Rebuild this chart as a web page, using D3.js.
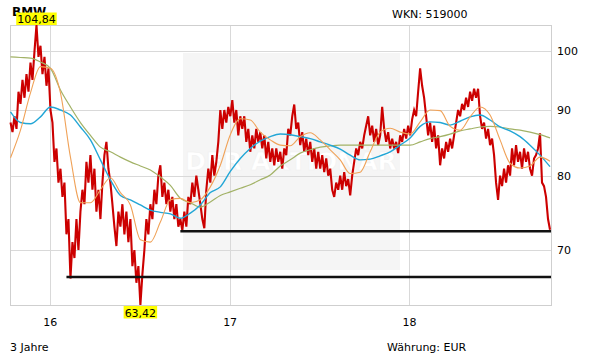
<!DOCTYPE html>
<html>
<head>
<meta charset="utf-8">
<script src="https://cdn.jsdelivr.net/npm/d3@7"></script>
<style>
  body { margin: 0; background: #fff; }
  svg { display: block; font-family: "DejaVu Sans", Verdana, sans-serif; }
</style>
</head>
<body>
<svg id="chart" width="611" height="364"></svg>
<script>
var title = 'BMW';
var wkn = 'WKN: 519000';
var periodLabel = '3 Jahre';
var currencyLabel = 'Währung: EUR';
var watermark = 'DER AKTIONÄR';

var startDate = new Date(2015, 9, 12);
var endDate = new Date(2018, 9, 14);
var axisEnd = new Date(2018, 9, 16);

var yTicks = [70, 80, 90, 100];

// price, one value roughly every 4 days
var prices = [
  88, 86.5, 89, 87, 93, 91, 95, 92, 96, 93,
  98, 95, 100, 104.84, 99, 101, 96, 99, 94, 97,
  90, 88, 82, 84, 79, 81, 77, 79, 72, 74,
  66.5, 71, 69, 74, 70, 75, 78, 76, 82, 79,
  83, 78, 81, 75, 78, 74, 79, 83, 85, 81,
  79, 76, 73, 70.5, 75, 73, 76, 72, 75, 71,
  74, 68, 70, 66, 68, 63.42, 67, 70, 74, 72,
  76, 74, 78, 76, 80, 81.5, 77, 79, 76, 78,
  75, 77, 74, 76, 73, 74, 72.5, 75, 73, 77,
  76, 79, 77, 80, 78, 76, 74, 72.8, 78, 81,
  79, 83, 80, 82, 85, 90, 87, 90, 88, 90.5,
  89, 91.6, 88, 90, 86, 89, 87, 89, 85, 87,
  83.5, 86, 84, 87, 85, 86.5, 84, 86, 82.5, 85,
  82, 84, 81.5, 84, 82, 83.5, 81, 84, 83, 87,
  86, 89, 90.9, 87, 88, 84.5, 86.5, 83.5, 85.5, 83,
  85, 82, 84, 81, 83.5, 81, 83, 80.5, 82.5, 80,
  81, 78, 77, 79, 78, 80, 78, 80.5, 78.5, 79.5,
  77.2, 80, 82, 84, 83, 85, 84, 86, 87.5, 89,
  86, 87.5, 85, 87, 84.5, 86, 90.5, 87, 85, 86.5,
  84, 85.5, 84, 85, 83.3, 86, 85, 87, 85.5, 87.5,
  86, 88.5, 90, 89, 93, 97, 94, 92, 89, 86,
  88, 85, 87.5, 84, 86, 81.5, 84, 82.5, 85, 83.5,
  85.5, 84, 86, 88, 90, 89, 91, 90, 92, 90.5,
  93, 91.5, 93.5, 92, 93.5, 89, 87, 88, 85.5, 87,
  84.5, 85.5, 83, 79, 76.6, 80, 78.5, 81, 79, 81.5,
  80, 84, 81.5, 84.5, 82, 83.5, 81, 84, 82, 83.5,
  81, 80, 82.5, 83, 84, 86.3, 79, 78.5, 77, 74,
  72.6
];

// moving averages, one value every 5th price point
var maStep = 5;
var ma38 = [
  82.6, 86.8, 92.8, 97.3, 97.0, 92.8, 82.7, 76.2, 76.2, 78.0,
  79.7, 77.6, 75.9, 71.3, 71.0, 73.6, 76.6, 76.8, 76.2, 76.6,
  78.4, 81.5, 86.1, 88.6, 88.4, 86.5, 85.3, 84.5, 84.4, 85.8,
  86.4, 85.3, 83.8, 82.3, 80.3, 80.5, 83.5, 86.5, 87.1, 86.5,
  86.2, 88.1, 90.0, 89.9, 87.4, 86.8, 88.9, 90.5, 89.2, 85.3,
  81.8, 81.1, 81.4, 82.7, 82.1
];
var ma100 = [
  89.7, 88.0, 87.8, 88.9, 90.5, 90.0, 89.2, 87.3, 85.3, 82.3,
  79.4, 77.2, 76.6, 75.9, 75.2, 74.9, 74.7, 74.1, 74.8, 75.9,
  77.6, 78.4, 80.6, 82.5, 84.0, 85.1, 85.8, 86.2, 86.1, 85.8,
  85.5, 85.0, 84.5, 83.9, 83.0, 82.3, 82.4, 82.9, 83.5, 84.5,
  85.6, 87.4, 88.1, 88.0, 87.6, 88.2, 88.9, 89.2, 88.4, 87.3,
  86.7, 85.8, 84.5, 83.0, 81.3
];
var ma200 = [
  99.0, 98.9, 98.8, 98.1, 97.0, 93.3, 90.5, 88.0, 86.0, 84.2,
  83.5, 82.7, 82.0, 81.4, 80.8, 79.8, 78.6, 76.8, 76.2, 75.6,
  76.3, 77.2, 77.7, 78.2, 78.7, 79.4, 80.1, 81.4, 82.3, 83.3,
  83.8, 84.2, 84.4, 84.5, 84.5, 84.5, 84.5, 84.5, 84.5, 84.5,
  84.5, 85.0, 85.5, 85.8, 86.2, 86.7, 87.0, 87.3, 87.4, 87.3,
  87.0, 86.8, 86.5, 86.1, 85.6
];

// support lines: value and price index where they start
var supportLevels = [72.4, 66.7];
var supportStart = [85, 28];

var width = 611, height = 364;
var plot = { left: 10, right: 551, top: 25, bottom: 305 };

var svg = d3.select('#chart');

function dateAt(i) {
  return new Date(+startDate + (endDate - startDate) * i / (prices.length - 1));
}

var x = d3.scaleTime()
  .domain([startDate, axisEnd])
  .range([plot.left + 0.5, plot.right]);

var y = d3.scaleLog()
  .domain([d3.min(prices), d3.max(prices)])
  .range([plot.bottom, plot.top]);

// watermark panel
svg.append('rect')
  .attr('x', 183).attr('y', 53)
  .attr('width', 217).attr('height', 217)
  .attr('fill', '#f5f5f5');

svg.append('text')
  .attr('x', 291).attr('y', 170)
  .attr('text-anchor', 'middle')
  .attr('font-size', 25)
  .attr('font-weight', 'bold')
  .attr('fill', '#ffffff')
  .attr('stroke', '#efefef')
  .attr('stroke-width', 0.5)
  .text(watermark);

// grid
var grid = svg.append('g').attr('stroke', '#d9d9d9').attr('stroke-width', 1);

grid.selectAll('line.h')
  .data(yTicks)
  .enter().append('line')
  .attr('x1', plot.left).attr('x2', plot.right)
  .attr('y1', function (d) { return Math.round(y(d)) + 0.5; })
  .attr('y2', function (d) { return Math.round(y(d)) + 0.5; });

var yearTicks = x.ticks(d3.timeYear.every(1));

grid.selectAll('line.v')
  .data(yearTicks)
  .enter().append('line')
  .attr('y1', plot.top).attr('y2', plot.bottom)
  .attr('x1', function (d) { return Math.round(x(d)) + 0.5; })
  .attr('x2', function (d) { return Math.round(x(d)) + 0.5; });

svg.append('rect')
  .attr('x', plot.left + 0.5).attr('y', plot.top + 0.5)
  .attr('width', plot.right - plot.left).attr('height', plot.bottom - plot.top)
  .attr('fill', 'none')
  .attr('stroke', '#cfcfcf');

// price
var priceLine = d3.line()
  .x(function (d, i) { return x(dateAt(i)); })
  .y(function (d) { return y(d); });

svg.append('path')
  .datum(prices)
  .attr('d', priceLine)
  .attr('fill', 'none')
  .attr('stroke', '#cc0000')
  .attr('stroke-width', 2.1)
  .attr('stroke-linejoin', 'miter');

// moving averages
var maLine = d3.line()
  .x(function (d, k) { return x(dateAt(k * maStep)); })
  .y(function (d) { return y(d); })
  .curve(d3.curveMonotoneX);

[[ma200, '#a2b266', 1.2], [ma100, '#22a6d6', 1.4], [ma38, '#f0a258', 1.1]].forEach(function (s) {
  svg.append('path')
    .datum(s[0])
    .attr('d', maLine)
    .attr('fill', 'none')
    .attr('stroke', s[1])
    .attr('stroke-width', s[2]);
});

// support lines
supportLevels.forEach(function (level, j) {
  svg.append('line')
    .attr('x1', x(dateAt(supportStart[j])))
    .attr('x2', plot.right)
    .attr('y1', y(level)).attr('y2', y(level))
    .attr('stroke', '#111')
    .attr('stroke-width', 2.5);
});

// axis labels
svg.selectAll('text.ytick')
  .data(yTicks)
  .enter().append('text')
  .attr('x', 557)
  .attr('y', function (d) { return y(d) + 4; })
  .attr('font-size', 11)
  .attr('fill', '#000')
  .text(function (d) { return d; });

svg.selectAll('text.xtick')
  .data(yearTicks)
  .enter().append('text')
  .attr('x', function (d) { return x(d); })
  .attr('y', 326)
  .attr('text-anchor', 'middle')
  .attr('font-size', 11)
  .attr('fill', '#000')
  .text(d3.timeFormat('%y'));

svg.append('text')
  .attr('x', 12).attr('y', 16)
  .attr('font-size', 12).attr('font-weight', 'bold')
  .text(title);

svg.append('text')
  .attr('x', 392).attr('y', 18)
  .attr('font-size', 11)
  .text(wkn);

svg.append('text')
  .attr('x', 10).attr('y', 351)
  .attr('font-size', 11)
  .text(periodLabel);

svg.append('text')
  .attr('x', 387).attr('y', 351)
  .attr('font-size', 11)
  .text(currencyLabel);

// high / low markers
var fmt = function (v) { return d3.format('.2f')(v).replace('.', ','); };
var hiIdx = d3.maxIndex(prices), loIdx = d3.minIndex(prices);

function marker(idx, top) {
  var g = svg.append('g');
  var t = g.append('text')
    .attr('x', x(dateAt(idx)))
    .attr('text-anchor', 'middle')
    .attr('font-size', 11)
    .text(fmt(prices[idx]));
  var bb = t.node().getBBox();
  var boxTop = top ? plot.top - 12.5 : plot.bottom + 1;
  g.insert('rect', 'text')
    .attr('x', bb.x - 1).attr('y', boxTop)
    .attr('width', bb.width + 2).attr('height', 12.5)
    .attr('fill', '#ffff00');
  t.attr('y', boxTop + 10.5);
}
marker(hiIdx, true);
marker(loIdx, false);
</script>
</body>
</html>
